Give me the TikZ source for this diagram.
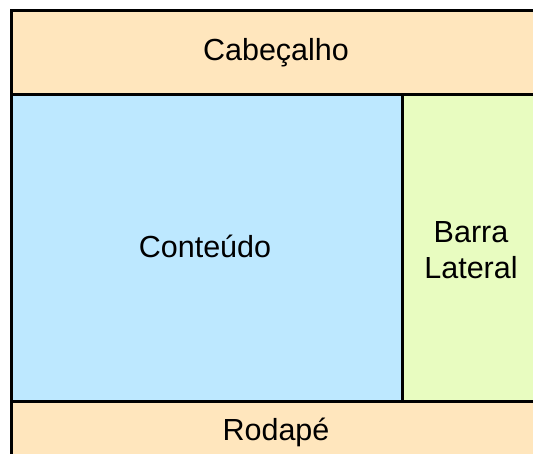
\documentclass[tikz,border=0pt]{standalone}
\usepackage{fontspec}
\setmainfont{Liberation Sans}
\definecolor{headc}{HTML}{FFE6BD}
\definecolor{contc}{HTML}{BDE8FF}
\definecolor{sidec}{HTML}{E8FCC0}
\begin{document}
\begin{tikzpicture}[x=1pt,y=-1pt,
  region/.style={draw=black,line width=3pt},
  lbl/.style={font=\fontsize{30.5}{36}\selectfont,align=center,inner sep=0pt,anchor=base}]
\useasboundingbox (0,0) rectangle (533,454);
\clip (0,0) rectangle (533,454);
\draw[region,fill=headc] (11.5,10.5) rectangle (545,94.5);
\draw[region,fill=contc] (11.5,94.5) rectangle (402.5,401.5);
\draw[region,fill=sidec] (402.5,94.5) rectangle (545,401.5);
\draw[region,fill=headc] (11.5,401.5) rectangle (545,470);
\node[lbl] (head) at (276,61) {Cabeçalho};
\node[lbl] (cont) at (205,258) {Conteúdo};
\node[lbl,anchor=center] (side) at (471,250) {Barra\\Lateral};
\node[lbl] (foot) at (276,440) {Rodapé};
\end{tikzpicture}
\end{document}
